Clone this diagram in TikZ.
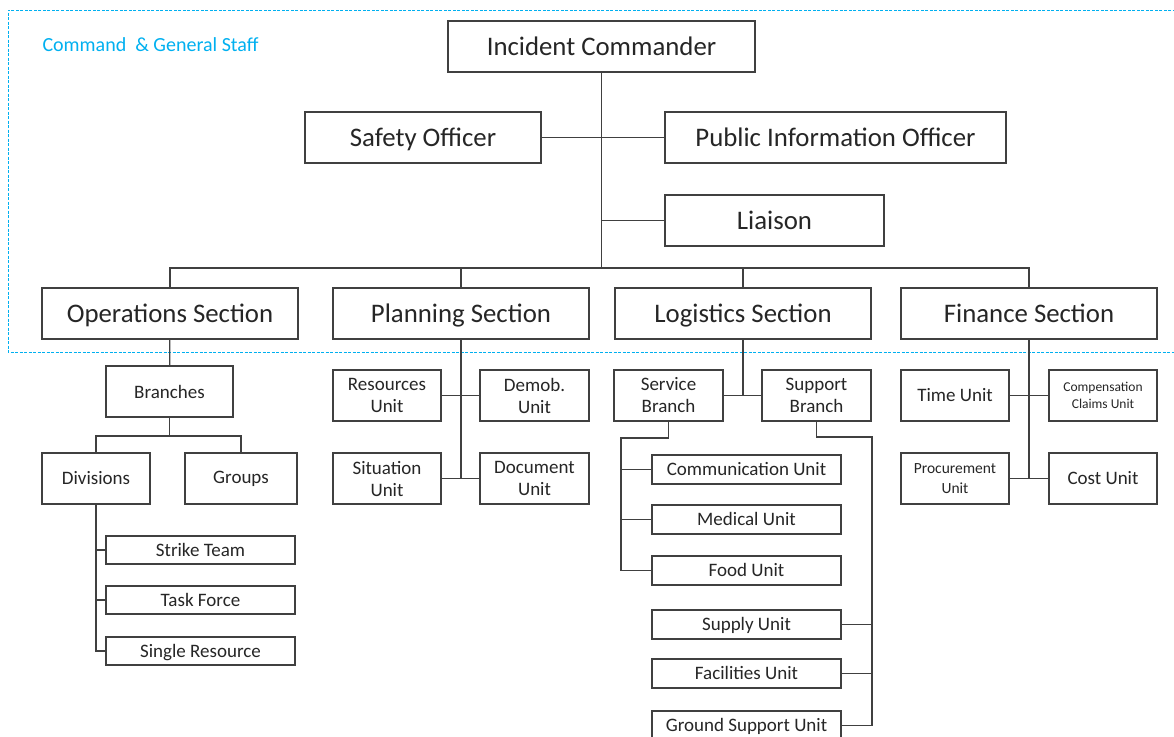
\documentclass[tikz,border=0pt]{standalone}
\usepackage{fontspec}
\setmainfont{Carlito}
\usepackage{tikz}
\definecolor{ics_cyan}{HTML}{00B0F0}
\definecolor{ics_line}{HTML}{404040}
\definecolor{ics_text}{HTML}{262626}
\tikzstyle{ics_box} = [draw = ics_line, line width = 1.2, inner sep = 0, text = ics_text]
\tikzstyle{ics_big} = [ics_box, minimum height = 51, text height = 17.3pt, text depth = 0, font = \fontsize{26.8}{30}\selectfont]
\tikzstyle{ics_unit} = [ics_box, align = center, minimum width = 108, minimum height = 51, font = \fontsize{19}{22}\selectfont]
\tikzstyle{ics_bar} = [ics_box, minimum width = 189, minimum height = 29, text height = 12.2pt, text depth = 0, font = \fontsize{19}{22}\selectfont]
\tikzstyle{ics_link} = [draw = ics_line, line width = 1.2]
\tikzstyle{ics_frame} = [draw = ics_cyan, line width = 0.9, dash pattern = on 3 off 1.5]

\begin{document}
    \begin{tikzpicture}[x = 1pt, y = -1pt]
        \useasboundingbox [fill = white] (0, 0) rectangle (1174, 736);
        \draw [ics_frame] (1180, 10) -- (8, 10) -- (8, 352) -- (1180, 352);
        \node [anchor = west, text = ics_cyan, font = \fontsize{20}{22}\selectfont] (cgs_label) at (39, 45) {Command \ \& General Staff};

        \node [ics_big, minimum width = 307] (ic) at (601.5, 46.5) {Incident Commander};
        \node [ics_big, minimum width = 236] (safety) at (423, 137.5) {Safety Officer};
        \node [ics_big, minimum width = 341] (pio) at (835.5, 137.5) {Public Information Officer};
        \node [ics_big, minimum width = 219] (liaison) at (774.5, 220.5) {Liaison};

        \node [ics_big, minimum width = 256] (ops) at (170, 313.5) {Operations Section};
        \node [ics_big, minimum width = 256] (plan) at (461, 313.5) {Planning Section};
        \node [ics_big, minimum width = 256] (log) at (743, 313.5) {Logistics Section};
        \node [ics_big, minimum width = 256] (fin) at (1029, 313.5) {Finance Section};

        \node [ics_unit, minimum width = 127] (branches) at (169.5, 391.5) {Branches};
        \node [ics_unit] (divisions) at (96, 478.5) {Divisions};
        \node [ics_unit, minimum width = 112] (groups) at (241, 478.5) {Groups};
        \node [ics_bar, minimum height = 28] (strike) at (200.5, 550) {Strike Team};
        \node [ics_bar, minimum height = 28] (task) at (200.5, 600) {Task Force};
        \node [ics_bar, minimum height = 28] (single) at (200.5, 651) {Single Resource};

        \node [ics_unit] (resources) at (387, 395.5) {Resources\\Unit};
        \node [ics_unit, minimum width = 109] (demob) at (534.5, 395.5) {Demob.\\Unit};
        \node [ics_unit] (situation) at (387, 478.5) {Situation\\Unit};
        \node [ics_unit, minimum width = 109] (document) at (534.5, 478.5) {Document\\Unit};

        \node [ics_unit, minimum width = 109] (service) at (668.5, 395.5) {Service\\Branch};
        \node [ics_unit, minimum width = 109] (support) at (816.5, 395.5) {Support\\Branch};
        \node [ics_bar] (comm) at (746.5, 469.5) {Communication Unit};
        \node [ics_bar] (medical) at (746.5, 519.5) {Medical Unit};
        \node [ics_bar] (food) at (746.5, 570.5) {Food Unit};
        \node [ics_bar] (supply) at (746.5, 624.5) {Supply Unit};
        \node [ics_bar] (facilities) at (746.5, 673.5) {Facilities Unit};
        \node [ics_bar] (ground) at (746.5, 725.5) {Ground Support Unit};

        \node [ics_unit] (time) at (955, 395.5) {Time Unit};
        \node [ics_unit, font = \fontsize{13.5}{17}\selectfont] (comp) at (1103, 395.5) {Compensation\\Claims Unit};
        \node [ics_unit, font = \fontsize{15.5}{20}\selectfont] (proc) at (955, 478.5) {Procurement\\Unit};
        \node [ics_unit] (cost) at (1103, 478.5) {Cost Unit};

        \coordinate (sec_bus) at (601.5, 268);
        \coordinate (branch_bus) at (169.5, 436);
        \coordinate (svc_turn) at (621, 438);
        \coordinate (sup_turn) at (872, 437);

        \draw [ics_link] (ic) -- (sec_bus);
        \draw [ics_link] (safety) -- (pio);
        \draw [ics_link] (ic.south |- liaison.west) -- (liaison);
        \draw [ics_link] (ops.north) |- (sec_bus) -| (fin.north);
        \draw [ics_link] (plan.north) -- (plan.north |- sec_bus);
        \draw [ics_link] (log.north) -- (log.north |- sec_bus);

        \draw [ics_link] (ops) -- (branches);
        \draw [ics_link] (branches) -- (branch_bus);
        \draw [ics_link] (divisions.north) |- (branch_bus) -| (groups.north);
        \draw [ics_link] (divisions.south) |- (single.west);
        \draw [ics_link] (divisions.south |- strike.west) -- (strike);
        \draw [ics_link] (divisions.south |- task.west) -- (task);

        \draw [ics_link] (plan.south) -- (plan.south |- situation.east);
        \draw [ics_link] (resources) -- (demob);
        \draw [ics_link] (situation) -- (document);

        \draw [ics_link] (log.south) -- (log.south |- service.east);
        \draw [ics_link] (service) -- (support);
        \draw [ics_link] (service.south) |- (svc_turn) |- (food.west);
        \draw [ics_link] (svc_turn |- comm.west) -- (comm);
        \draw [ics_link] (svc_turn |- medical.west) -- (medical);
        \draw [ics_link] (support.south) |- (sup_turn) |- (ground.east);
        \draw [ics_link] (sup_turn |- supply.east) -- (supply);
        \draw [ics_link] (sup_turn |- facilities.east) -- (facilities);

        \draw [ics_link] (fin.south) -- (fin.south |- proc.east);
        \draw [ics_link] (time) -- (comp);
        \draw [ics_link] (proc) -- (cost);
    \end{tikzpicture}
\end{document}
